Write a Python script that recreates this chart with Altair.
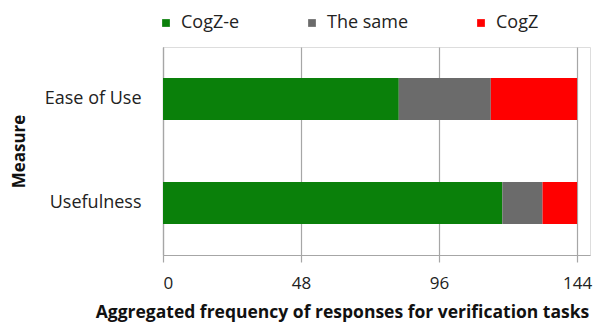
import altair as alt
import pandas as pd

measures = ["Ease of Use", "Usefulness"]
responses = ["CogZ-e", "The same", "CogZ"]
ease_values = [82, 32, 30]
useful_values = [118, 14, 12]
colors = ["#0a800a", "#6b6b6b", "#ff0000"]
x_ticks = [0, 48, 96, 144]

rows = []
for m, vals in zip(measures, [ease_values, useful_values]):
    for i, (r, v) in enumerate(zip(responses, vals)):
        rows.append({"Measure": m, "Response": r, "Count": v, "order": i})
df = pd.DataFrame(rows)

FONT = "Open Sans"

chart = alt.Chart(df).mark_bar(size=42).encode(
    x=alt.X("Count:Q",
            stack="zero",
            scale=alt.Scale(domain=[0, 148.5], nice=False, zero=True),
            axis=alt.Axis(values=x_ticks, title="Aggregated frequency of responses for verification tasks",
                          grid=True, gridColor="#a6a6a6", gridWidth=1.2,
                          domainColor="#a6a6a6", domainWidth=1.2,
                          tickColor="#a6a6a6", tickSize=7, tickWidth=1.2,
                          labelFont=FONT, labelFontSize=17, labelColor="#222222",
                          labelPadding=13,
                          titleFont=FONT, titleFontSize=17.5, titleFontWeight="bold",
                          titleColor="#111111", titlePadding=12,
                          titleX=179, titleAnchor="middle")),
    y=alt.Y("Measure:N", sort=measures,
            scale=alt.Scale(paddingInner=0.0, paddingOuter=0.0),
            axis=alt.Axis(title="Measure", ticks=False,
                          domainColor="#a6a6a6", domainWidth=1.2,
                          labelFont=FONT, labelFontSize=18, labelColor="#222222",
                          labelPadding=22,
                          titleFont=FONT, titleFontSize=17, titleFontWeight="bold",
                          titleColor="#111111", titleX=-144, titleY=104,
                          titleAngle=270, titleAlign="center", titleBaseline="middle")),
    color=alt.Color("Response:N", sort=responses,
                    scale=alt.Scale(domain=responses, range=colors),
                    legend=alt.Legend(title=None, orient="none", direction="horizontal",
                                      legendX=-6, legendY=-33,
                                      symbolType="square", symbolSize=60,
                                      symbolStrokeWidth=0, symbolOpacity=1,
                                      labelFont=FONT, labelFontSize=18, labelColor="#222222",
                                      labelOffset=6, columnPadding=63)),
    order=alt.Order("order:Q"),
).properties(
    width=427, height=208,
    autosize=alt.AutoSizeParams(type="none"),
    padding={"left": 155, "top": 39, "right": 8, "bottom": 70},
).configure_view(stroke=None).configure(background="white")

chart.save("out.html", embed_options={"renderer": "svg", "actions": False})
